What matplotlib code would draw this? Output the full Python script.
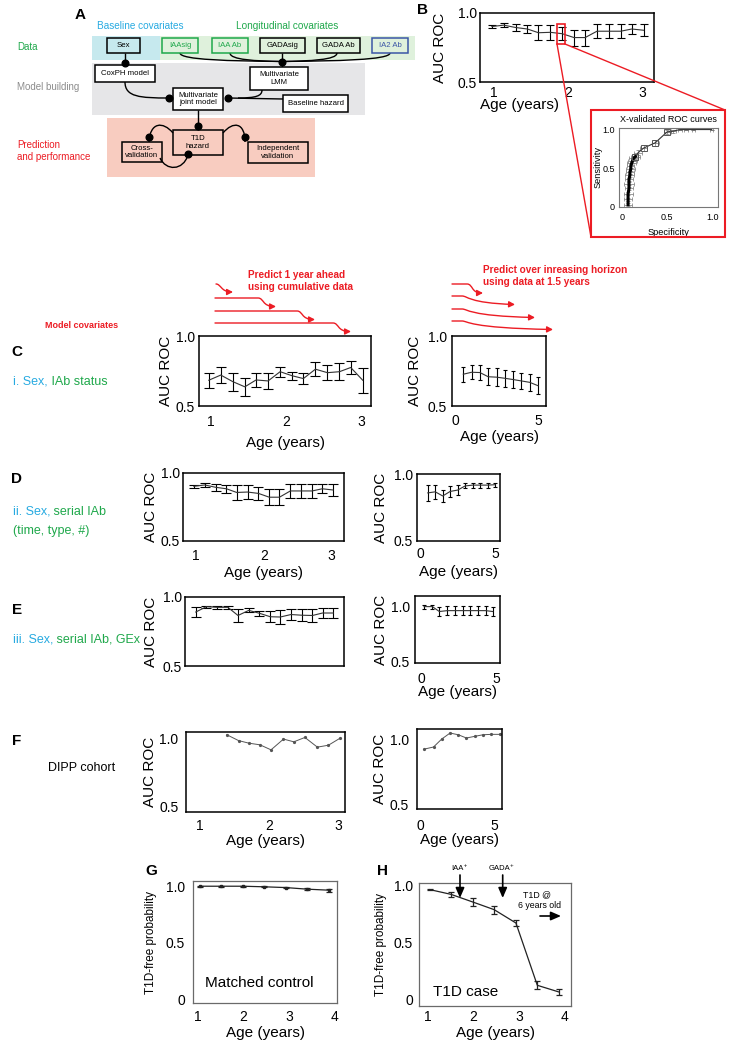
import matplotlib
matplotlib.use("Agg")
import matplotlib.pyplot as plt
from matplotlib.patches import Rectangle, FancyArrowPatch, PathPatch
from matplotlib.path import Path

plt.rcParams['font.family'] = ['Liberation Sans', 'DejaVu Sans']

W, H = 731, 1050
fig = plt.figure(figsize=(W / 100, H / 100), dpi=100)

RED = '#ec1c24'
CYAN = '#27aae1'
GREEN = '#1fa84b'
BLUE = '#3b56a6'
GRAYTXT = '#8c8c8c'

# ---------------- data ----------------
ages_1y = [0.97, 1.13, 1.29, 1.45, 1.60, 1.76, 1.92, 2.08, 2.23, 2.39, 2.55, 2.71, 2.86, 3.02]
horizons = [0.5, 1.0, 1.5, 2.0, 2.5, 3.0, 3.5, 4.0, 4.5, 5.0]
horizons_E = [0.2, 0.75, 1.21, 1.74, 2.25, 2.76, 3.24, 3.75, 4.28, 4.75]

auc_C_1y = [0.684, 0.721, 0.674, 0.637, 0.686, 0.679, 0.745, 0.716, 0.696, 0.763, 0.738, 0.745, 0.775, 0.684]
err_C_1y = [0.054, 0.060, 0.064, 0.065, 0.052, 0.060, 0.036, 0.030, 0.042, 0.049, 0.052, 0.060, 0.046, 0.089]
auc_C_hz = [0.727, 0.741, 0.739, 0.709, 0.706, 0.698, 0.689, 0.679, 0.669, 0.645]
err_C_hz = [0.054, 0.051, 0.054, 0.060, 0.063, 0.060, 0.063, 0.060, 0.060, 0.060]

auc_D_1y = [0.902, 0.912, 0.895, 0.884, 0.857, 0.860, 0.850, 0.822, 0.822, 0.868, 0.868, 0.868, 0.884, 0.875]
err_D_1y = [0.012, 0.012, 0.025, 0.028, 0.055, 0.053, 0.049, 0.058, 0.058, 0.049, 0.049, 0.049, 0.033, 0.042]
auc_D_hz = [0.859, 0.867, 0.836, 0.870, 0.880, 0.911, 0.917, 0.917, 0.917, 0.920]
err_D_hz = [0.059, 0.050, 0.044, 0.040, 0.038, 0.019, 0.018, 0.018, 0.018, 0.015]

auc_E_1y = [0.891, 0.930, 0.925, 0.925, 0.866, 0.903, 0.882, 0.857, 0.855, 0.873, 0.868, 0.866, 0.884, 0.884]
err_E_1y = [0.039, 0.007, 0.010, 0.010, 0.045, 0.015, 0.017, 0.041, 0.051, 0.040, 0.042, 0.045, 0.039, 0.039]
auc_E_hz = [0.995, 0.995, 0.951, 0.959, 0.959, 0.959, 0.959, 0.959, 0.959, 0.951]
err_E_hz = [0.018, 0.018, 0.040, 0.041, 0.041, 0.041, 0.041, 0.041, 0.041, 0.040]

ages_F = [1.39, 1.56, 1.71, 1.87, 2.03, 2.21, 2.36, 2.52, 2.70, 2.86, 3.03]
auc_F_1y = [1.03, 0.987, 0.968, 0.956, 0.919, 0.998, 0.978, 1.01, 0.939, 0.953, 1.005]
horizons_F = [0.27, 0.89, 1.44, 2.0, 2.55, 3.1, 3.67, 4.22, 4.78, 5.33]
auc_F_hz = [0.928, 0.944, 1.005, 1.051, 1.038, 1.013, 1.026, 1.038, 1.041, 1.041]

ages_GH = [1.04, 1.5, 1.98, 2.45, 2.93, 3.4, 3.88]
p_control = [1.0, 1.0, 1.0, 0.995, 0.988, 0.974, 0.965]
err_control = [0.003, 0.003, 0.003, 0.004, 0.007, 0.009, 0.012]
p_case = [0.962, 0.921, 0.854, 0.787, 0.670, 0.125, 0.066]
err_case = [0.004, 0.020, 0.035, 0.035, 0.030, 0.035, 0.025]

roc_spec = [0.07, 0.07, 0.07, 0.08, 0.08, 0.08, 0.09, 0.09, 0.10, 0.10, 0.11, 0.12, 0.13, 0.15,
            0.18, 0.24, 0.37, 0.50, 0.57, 0.64, 0.71, 0.79, 0.99]
roc_sens = [0.03, 0.10, 0.17, 0.24, 0.30, 0.36, 0.41, 0.45, 0.49, 0.53, 0.57, 0.60, 0.63, 0.65,
            0.70, 0.76, 0.83, 0.97, 0.98, 1.0, 1.0, 1.0, 1.0]
roc_spec_err = [0.04, 0.04, 0.05, 0.04, 0.05, 0.04, 0.05, 0.04, 0.05, 0.04, 0.05, 0.05, 0.05, 0.05,
                0.04, 0.04, 0.04, 0.04, 0.03, 0.02, 0.02, 0.02, 0.02]
roc_sens_err = [0.02, 0.02, 0.02, 0.02, 0.02, 0.02, 0.02, 0.02, 0.02, 0.02, 0.03, 0.03, 0.03, 0.03,
                0.03, 0.04, 0.04, 0.03, 0.02, 0.0, 0.0, 0.0, 0.0]
roc_square_idx = [13, 15, 16, 17]


# ---------------- helpers ----------------
def pax(x0, y0, x1, y1, **kw):
    return fig.add_axes([x0 / W, 1 - y1 / H, (x1 - x0) / W, (y1 - y0) / H], **kw)


def frame(ax, color='black', lw=1.1, fs=10):
    for s in ax.spines.values():
        s.set_color(color)
        s.set_linewidth(lw)
    ax.tick_params(length=0, labelsize=fs)


def auc_axes(box, xlim, ylim, xticks, xpad, ypad, ylab_x, xlab_y=None, xticklabels=True):
    ax = pax(*box)
    ax.set_xlim(xlim)
    ax.set_ylim(ylim)
    ax.set_yticks([0.5, 1.0])
    ax.set_yticklabels(['0.5', '1.0'])
    if xticklabels:
        ax.set_xticks(xticks)
        ax.set_xticklabels([str(t) for t in xticks])
    else:
        ax.set_xticks([])
    frame(ax)
    ax.tick_params(axis='x', pad=xpad)
    ax.tick_params(axis='y', pad=ypad)
    ax.set_ylabel('AUC ROC', fontsize=11)
    ax.yaxis.set_label_coords(ylab_x, 0.5)
    if xlab_y is not None:
        ax.set_xlabel('Age (years)', fontsize=11)
        ax.xaxis.set_label_coords(0.5, xlab_y)
    return ax


def eb(ax, x, y, e, cap, lw=0.8):
    ax.errorbar(x, y, yerr=e, color='#333333', ecolor='black', elinewidth=lw,
                lw=0.8, capsize=cap, capthick=lw)


# ---------------- panel B ----------------
axB = auc_axes((480, 13, 654, 82), (0.81, 3.16), (0.5, 1.0), [1, 2, 3], 2.7, 2.2, -0.19)
axB.set_xlabel('Age (years)', fontsize=11, loc='left')
axB.xaxis.set_label_coords(0.0, -0.235)
eb(axB, ages_1y, auc_D_1y, err_D_1y, 3)

# inset ROC
axI = pax(619, 128, 718, 207)
axI.set_xlim(-0.03, 1.06)
axI.set_ylim(0, 1.02)
frame(axI, color='#777777', lw=0.8, fs=6.5)
axI.set_xticks([0, 0.5, 1.0])
axI.set_xticklabels(['0', '0.5', '1.0'])
axI.set_yticks([0, 0.5, 1.0])
axI.set_yticklabels(['0', '0.5', '1.0'])
axI.tick_params(axis='x', pad=4)
axI.tick_params(axis='y', pad=3)
axI.errorbar(roc_spec, roc_sens, xerr=roc_spec_err, yerr=roc_sens_err, fmt='none',
             ecolor='#777777', elinewidth=0.5, capsize=1.2, capthick=0.5)
axI.plot(roc_spec, roc_sens, color='#333333', lw=0.8)
axI.plot(roc_spec[:14], roc_sens[:14], color='black', lw=2.2)
axI.plot([roc_spec[i] for i in roc_square_idx], [roc_sens[i] for i in roc_square_idx], 's',
         mfc='none', mec='#555555', ms=5, mew=0.7)
axI.set_title('X-validated ROC curves', fontsize=6.5, pad=4)
axI.set_xlabel('Specificity', fontsize=6.7)
axI.xaxis.set_label_coords(0.5, -0.26)
axI.set_ylabel('Sensitivity', fontsize=6.7)
axI.yaxis.set_label_coords(-0.17, 0.5)

# ---------------- panel C ----------------
axC1 = auc_axes((199, 336, 371, 406), (0.84, 3.13), (0.5, 1.0), [1, 2, 3], 6.5, 2.8, -0.151, -0.43)
eb(axC1, ages_1y, auc_C_1y, err_C_1y, 3.5)
axC2 = auc_axes((452, 336, 546, 406), (-0.18, 5.48), (0.5, 1.0), [0, 5], 5.8, 3.5, -0.32, -0.34)
eb(axC2, horizons, auc_C_hz, err_C_hz, 1.2)

# ---------------- panel D ----------------
axD1 = auc_axes((183, 473, 344, 541), (0.81, 3.18), (0.5, 1.0), [1, 2, 3], 5.8, 2.2, -0.155, -0.37)
eb(axD1, ages_1y, auc_D_1y, err_D_1y, 3.5)
axD2 = auc_axes((417, 474, 500, 541), (-0.22, 5.33), (0.5, 1.0), [0, 5], 4.0, 2.8, -0.35, -0.36)
eb(axD2, horizons, auc_D_hz, err_D_hz, 1.5)

# ---------------- panel E ----------------
axE1 = auc_axes((185, 597, 344, 666), (0.81, 3.18), (0.5, 1.0), [1, 2, 3], 5.8, 2.2, -0.17,
                None, xticklabels=False)
eb(axE1, ages_1y, auc_E_1y, err_E_1y, 3.5)
axE2 = auc_axes((415, 596, 500, 663), (-0.4, 5.23), (0.49, 1.09), [0, 5], 6.2, 3.6, -0.32, -0.33)
eb(axE2, horizons_E, auc_E_hz, err_E_hz, 1.5)

# ---------------- panel F ----------------
axF1 = auc_axes((186, 732, 345, 812), (0.80, 3.10), (0.463, 1.05), [1, 2, 3], 5.0, 5.5, -0.18, -0.27)
axF1.plot(ages_F, auc_F_1y, color='#555555', lw=0.7, marker='o', ms=1.3)
axF2 = auc_axes((417, 729, 502, 809), (-0.22, 5.49), (0.469, 1.082), [0, 5], 7.0, 6.0, -0.35, -0.30)
axF2.plot(horizons_F, auc_F_hz, color='#555555', lw=0.7, marker='o', ms=1.3)

# ---------------- panels G, H ----------------
def surv_axes(box, xlim, ylim, xpad, ypad, ylab_x, xlab_y):
    ax = pax(*box)
    ax.set_xlim(xlim)
    ax.set_ylim(ylim)
    ax.set_xticks([1, 2, 3, 4])
    ax.set_xticklabels(['1', '2', '3', '4'])
    ax.set_yticks([0, 0.5, 1.0])
    ax.set_yticklabels(['0', '0.5', '1.0'])
    frame(ax, color='#6a6a6a', lw=0.9)
    ax.tick_params(axis='x', pad=xpad)
    ax.tick_params(axis='y', pad=ypad)
    ax.set_ylabel('T1D-free probability', fontsize=8.5)
    ax.yaxis.set_label_coords(ylab_x, 0.5)
    ax.set_xlabel('Age (years)', fontsize=11)
    ax.xaxis.set_label_coords(0.5, xlab_y)
    return ax


axG = surv_axes((193, 881, 337, 1003), (0.89, 4.05), (-0.029, 1.046), 5.0, 5.8, -0.25, -0.19)
axG.errorbar(ages_GH, p_control, yerr=err_control, color='#222222', lw=0.9, elinewidth=0.9,
             capsize=2, capthick=0.9, marker='s', ms=1.5)
axH = surv_axes((419, 883, 571, 1006), (0.80, 4.14), (-0.056, 1.02), 3.0, 4.3, -0.21, -0.16)
axH.errorbar(ages_GH, p_case, yerr=err_case, color='#222222', lw=0.9, elinewidth=0.9,
             capsize=2.5, capthick=0.9)

# ---------------- overlay (pixel coordinates) ----------------
ov = fig.add_axes([0, 0, 1, 1], zorder=10)
ov.set_xlim(0, W)
ov.set_ylim(H, 0)
ov.axis('off')
ov.patch.set_alpha(0)


def mkpath(segs):
    verts, codes = [], []
    for s in segs:
        if s[0] == 'M':
            verts.append(s[1]); codes.append(Path.MOVETO)
        elif s[0] == 'L':
            verts.append(s[1]); codes.append(Path.LINETO)
        else:
            verts += [s[1], s[2], s[3]]; codes += [Path.CURVE4] * 3
    return Path(verts, codes)


def draw(segs, color='k', lw=1.0, arrow=False, z=2):
    p = mkpath(segs)
    if arrow:
        ov.add_patch(FancyArrowPatch(path=p, arrowstyle='-|>,head_length=3.5,head_width=1.8',
                                     color=color, lw=lw, transform=ov.transData,
                                     mutation_scale=1, zorder=z))
    else:
        ov.add_patch(PathPatch(p, fc='none', ec=color, lw=lw, zorder=z))


def box(x0, y0, x1, y1, text, ec='k', tc='k', fc='none', fs=5.6):
    ov.add_patch(Rectangle((x0, y0), x1 - x0, y1 - y0, fc=fc, ec=ec, lw=1.1, zorder=3))
    ov.text((x0 + x1) / 2, (y0 + y1) / 2, text, ha='center', va='center', fontsize=fs,
            color=tc, zorder=4, linespacing=1.15)


def dot(x, y):
    ov.plot([x], [y], 'o', color='k', ms=4.8, zorder=5)


# panel A backgrounds
ov.add_patch(Rectangle((92, 36), 68, 24, fc='#c6e9ee', ec='none', zorder=1))
ov.add_patch(Rectangle((160, 36), 255, 24, fc='#dff1dc', ec='none', zorder=1))
ov.add_patch(Rectangle((92, 63), 273, 52, fc='#e6e6e8', ec='none', zorder=1))
ov.add_patch(Rectangle((107, 118), 208, 59, fc='#f8ccc0', ec='none', zorder=1))

ov.text(140, 26, 'Baseline covariates', color=CYAN, fontsize=7.2, ha='center', va='center')
ov.text(287, 26, 'Longitudinal covariates', color=GREEN, fontsize=7.2, ha='center', va='center')
ov.text(17, 47, 'Data', color=GREEN, fontsize=7, ha='left', va='center')
ov.text(17, 87, 'Model building', color=GRAYTXT, fontsize=7, ha='left', va='center')
ov.text(17, 151, 'Prediction\nand performance', color=RED, fontsize=7, ha='left', va='center',
        linespacing=1.25)

# connectors (drawn under boxes)
for bx in (180, 230, 337, 390):
    draw([('M', (bx, 53)), ('C', (bx, 60), ((bx + 282) / 2, 61), (282, 61.5))])
draw([('M', (282, 53)), ('L', (282, 67))])
draw([('M', (125, 53)), ('L', (125, 65))])
draw([('M', (125, 82)), ('C', (125, 97), (140, 98), (169, 98))])
draw([('M', (228, 98)), ('L', (283, 99))])
draw([('M', (262, 90)), ('C', (262, 96), (256, 98), (238, 98))])
draw([('M', (198, 110)), ('L', (198, 130))])
draw([('M', (173, 133)), ('C', (163, 121), (150, 122), (149, 142))])
draw([('M', (223, 133)), ('C', (233, 121), (245, 122), (245, 142))])
draw([('M', (160, 158)), ('C', (166, 171), (183, 171), (188, 155))])

box(107, 38, 140, 53, 'Sex')
box(162, 38, 198, 53, 'IAAsig', ec=GREEN, tc=GREEN)
box(212, 38, 248, 53, 'IAA Ab', ec=GREEN, tc=GREEN)
box(260, 38, 305, 53, 'GADAsig')
box(317, 38, 360, 53, 'GADA Ab')
box(372, 38, 408, 53, 'IA2 Ab', ec=BLUE, tc=BLUE)
box(95, 65, 155, 82, 'CoxPH model', fc='white')
box(250, 67, 308, 90, 'Multivariate\nLMM', fc='white')
box(173, 88, 223, 110, 'Multivariate\njoint model', fc='white')
box(283, 95, 348, 112, 'Baseline hazard', fc='white')
box(173, 130, 223, 155, 'T1D\nhazard')
box(122, 142, 162, 162, 'Cross-\nvalidation')
box(248, 142, 308, 163, 'Independent\nvalidation')

for (dx, dy) in [(125, 63), (282, 62), (169, 98), (228, 98), (198, 126), (149, 137), (245, 137),
                 (188, 154)]:
    dot(dx, dy)

# B zoom connectors and inset frame
ov.add_patch(Rectangle((557, 24), 8, 20, fc='none', ec=RED, lw=1.2))
ov.plot([557, 591], [44, 237], color=RED, lw=1.0)
ov.plot([565, 725], [44, 110], color=RED, lw=1.0)
ov.add_patch(Rectangle((591, 110), 134, 127, fc='none', ec=RED, lw=1.5))

# header arrows
ov.text(248, 280.5, 'Predict 1 year ahead\nusing cumulative data', color=RED, fontsize=7.2,
        fontweight='bold', ha='left', va='center', linespacing=1.25)
ov.text(483, 276, 'Predict over inreasing horizon\nusing data at 1.5 years', color=RED,
        fontsize=7.2, fontweight='bold', ha='left', va='center', linespacing=1.25)

draw([('M', (216, 284)), ('C', (221, 284), (221, 292), (233, 292))], color=RED, lw=1.0, arrow=True)
for (xe, yy) in [(258, 298), (297, 311), (333, 323)]:
    draw([('M', (215, yy)), ('L', (xe, yy)), ('C', (xe + 6, yy), (xe + 4, yy + 8.5), (xe + 18, yy + 8.5))],
         color=RED, lw=1.0, arrow=True)
draw([('M', (452, 284)), ('L', (467, 284)), ('C', (473, 284), (471, 293), (483, 293))],
     color=RED, lw=1.0, arrow=True)
for (xe, yy) in [(515, 296), (535, 309), (553, 321)]:
    draw([('M', (452, yy)), ('L', (462, yy)), ('C', (468, yy), (468, yy + 7), (xe, yy + 8.5))],
         color=RED, lw=1.0, arrow=True)

ov.text(45, 326, 'Model covariates', color=RED, fontsize=6.5, fontweight='bold', ha='left',
        va='center')


def two_color(x, y, a, b, fs=9):
    t = ov.text(x, y, a, color=CYAN, fontsize=fs, va='center', ha='left')
    ov.annotate(b, xy=(1, 0), xycoords=t, va='bottom', ha='left', color=GREEN, fontsize=fs)


two_color(13, 382, 'i. Sex,', ' IAb status')
two_color(13, 512, 'ii. Sex,', ' serial IAb')
ov.text(13, 531, '(time, type, #)', color=GREEN, fontsize=9, va='center', ha='left')
two_color(13, 640, 'iii. Sex,', ' serial IAb, GEx')
ov.text(48, 768, 'DIPP cohort', color='black', fontsize=9, va='center', ha='left')

# panel letters
for (lab, lx, ly) in [('A', 80, 15), ('B', 423, 10), ('C', 17, 352), ('D', 17, 479),
                      ('E', 17, 610), ('F', 17, 741), ('G', 151, 871), ('H', 383, 871)]:
    ov.text(lx, ly, lab, fontsize=11, fontweight='bold', ha='center', va='center')

# G / H annotations
ov.text(205, 983, 'Matched control', fontsize=11, ha='left', va='center')
ov.text(433, 992, 'T1D case', fontsize=11, ha='left', va='center')
ov.text(460, 868, 'IAA\u207a', fontsize=5.5, ha='center', va='center')
ov.text(502, 868, 'GADA\u207a', fontsize=5.5, ha='center', va='center')
for ax_x in (460, 502.7):
    ov.annotate('', xy=(ax_x, 898), xytext=(ax_x, 875),
                arrowprops=dict(arrowstyle='-|>,head_length=6,head_width=2.6', color='k', lw=1.2,
                                mutation_scale=1, shrinkA=0, shrinkB=0))
ov.text(537, 895, 'T1D @', fontsize=6.3, ha='center', va='center')
ov.text(539, 905, '6 years old', fontsize=6.3, ha='center', va='center')
ov.annotate('', xy=(561, 916), xytext=(540, 916),
            arrowprops=dict(arrowstyle='-|>,head_length=6,head_width=2.6', color='k', lw=1.2,
                            mutation_scale=1, shrinkA=0, shrinkB=0))

fig.savefig('out.png', dpi=100)
